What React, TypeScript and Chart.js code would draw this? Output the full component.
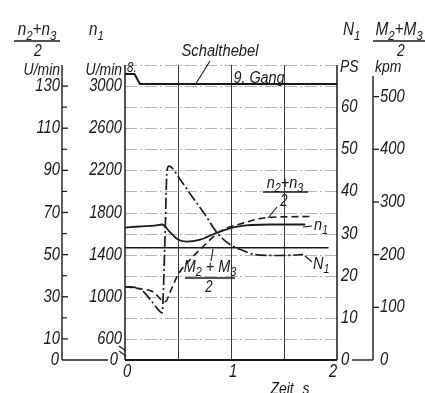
import React, { useEffect, useRef } from "react";
import { Chart, registerables } from "chart.js";
Chart.register(...registerables);

// ---- tick labels ----
const timeTicks = [0, 1, 2];
const nMeanTicks = [10, 30, 50, 70, 90, 110, 130]; // (n2+n3)/2  U/min
const nMeanMinor = [20, 40, 60, 80, 100, 120];
const n1Ticks = [600, 1000, 1400, 1800, 2200, 2600, 3000]; // n1 U/min
const psTicks = [10, 20, 30, 40, 50, 60]; // N1 PS
const mTicks = [100, 200, 300, 400, 500]; // (M2+M3)/2 kpm
const timeGrid = [0.5, 1, 1.5];

// ---- Schalthebel (position, in (n2+n3)/2 units) ----
const leverT = [0, 0.09, 0.14, 2.0];
const leverV = [135.7, 135.7, 131, 131];

// ---- n1 engine speed, U/min ----
const n1T = [0, 0.14, 0.28, 0.35, 0.42, 0.5, 0.58, 0.71, 0.87, 1.06, 1.37, 1.7];
const n1V = [1657, 1667, 1676, 1686, 1619, 1543, 1524, 1543, 1610, 1667, 1686, 1686];

// ---- horizontal reference line (in (n2+n3)/2 units) ----
const refT = [0, 1.92];
const refV = [53.3, 53.3];

// ---- (n2+n3)/2, U/min ----
const nMeanT = [0, 0.14, 0.264, 0.377, 0.443, 0.5, 0.613, 0.736, 0.896, 1.132, 1.34, 1.774];
const nMeanV = [34.8, 33.8, 32.4, 27.6, 34.3, 40.5, 47.6, 53.8, 61.0, 65.2, 67.6, 68.1];

// ---- N1 power, PS ----
const powT = [0, 0.14, 0.24, 0.33, 0.35, 0.377, 0.396, 0.415, 0.519, 0.632, 0.755, 0.868, 0.99, 1.113, 1.226, 1.46, 1.68];
const powV = [17.4, 16.9, 14.3, 11.5, 11.2, 28.6, 44.8, 46.0, 42.9, 38.8, 34.5, 30.2, 27.4, 26.0, 25.0, 24.8, 25.0];

const INK = "#1a1a1a";
const FONT = '"Liberation Sans", "DejaVu Sans", sans-serif';

function pts(t: number[], v: number[]) {
  return t.map((x, i) => ({ x, y: v[i] }));
}

type Seg = { t: string; sub?: boolean };

function drawText(ctx: CanvasRenderingContext2D, s: string, x: number, y: number, size: number, align: CanvasTextAlign = "left", sx = 0.82) {
  ctx.save();
  ctx.font = `italic ${size}px ${FONT}`;
  ctx.fillStyle = INK;
  ctx.textBaseline = "middle";
  ctx.textAlign = align;
  ctx.translate(x, y);
  ctx.scale(sx, 1);
  ctx.fillText(s, 0, 0);
  ctx.restore();
}

function drawSegs(ctx: CanvasRenderingContext2D, segs: Seg[], x: number, y: number, size: number, align: "left" | "center" = "left", sx = 0.85) {
  ctx.save();
  ctx.fillStyle = INK;
  ctx.textBaseline = "middle";
  ctx.textAlign = "left";
  const subSize = size * 0.75;
  let w = 0;
  for (const s of segs) {
    ctx.font = `italic ${s.sub ? subSize : size}px ${FONT}`;
    w += ctx.measureText(s.t).width;
  }
  ctx.translate(x, y);
  ctx.scale(sx, 1);
  let cx = align === "center" ? -w / 2 : 0;
  for (const s of segs) {
    ctx.font = `italic ${s.sub ? subSize : size}px ${FONT}`;
    ctx.fillText(s.t, cx, s.sub ? size * 0.32 : 0);
    cx += ctx.measureText(s.t).width;
  }
  ctx.restore();
}

function line(ctx: CanvasRenderingContext2D, x1: number, y1: number, x2: number, y2: number, w = 1.3) {
  ctx.save();
  ctx.strokeStyle = INK;
  ctx.lineWidth = w;
  ctx.setLineDash([]);
  ctx.beginPath();
  ctx.moveTo(x1, y1);
  ctx.lineTo(x2, y2);
  ctx.stroke();
  ctx.restore();
}

const decor = {
  id: "decor",
  beforeDatasetsDraw(chart: any) {
    const { ctx, chartArea: a, scales } = chart;
    const yv = scales.yv;
    const x = scales.x;
    ctx.save();
    // horizontal grid
    ctx.strokeStyle = "#b4b4b4";
    ctx.lineWidth = 1;
    ctx.setLineDash([12, 3, 2, 3]);
    for (let v = 10; v <= 140; v += 10) {
      const py = Math.round(yv.getPixelForValue(v)) + 0.5;
      ctx.beginPath();
      ctx.moveTo(a.left, py);
      ctx.lineTo(a.right, py);
      ctx.stroke();
    }
    // vertical grid
    ctx.setLineDash([]);
    ctx.strokeStyle = "#3a3a3a";
    for (const t of timeGrid) {
      const px = Math.round(x.getPixelForValue(t)) + 0.5;
      ctx.beginPath();
      ctx.moveTo(px, a.top);
      ctx.lineTo(px, a.bottom);
      ctx.stroke();
    }
    ctx.restore();
  },
  afterDraw(chart: any) {
    const { ctx, chartArea: a, scales } = chart;
    const { x, yv, yn1, yps, ym } = scales;
    // frame
    line(ctx, a.left, a.top, a.left, a.bottom, 1.5);
    line(ctx, a.right, a.top, a.right, a.bottom, 1.5);
    line(ctx, a.left, a.bottom, a.right, a.bottom, 2);

    // left (n2+n3)/2 axis
    const axL = 62;
    line(ctx, axL, a.top, axL, a.bottom, 1.4);
    line(ctx, axL, a.bottom, 108, a.bottom, 1.4);
    for (const v of nMeanTicks) {
      const py = yv.getPixelForValue(v);
      line(ctx, axL, py, axL + 6, py, 1.3);
      drawText(ctx, String(v), axL - 2, py, 18, "right");
    }
    for (const v of nMeanMinor) {
      const py = yv.getPixelForValue(v);
      line(ctx, axL, py, axL + 5, py, 1.2);
    }
    drawText(ctx, "0", axL - 3, a.bottom, 18, "right");

    // n1 axis labels
    for (const v of n1Ticks) {
      drawText(ctx, String(v), a.left - 3, yn1.getPixelForValue(v), 18, "right");
    }
    drawText(ctx, "0", 118, a.bottom, 18, "right");
    // axis break mark
    line(ctx, 119, 346, 126, 351, 1.1);
    line(ctx, 119, 351, 126, 356, 1.1);

    // right PS axis
    for (const v of psTicks) {
      drawText(ctx, String(v), a.right + 4, yps.getPixelForValue(v), 18, "left");
    }
    drawText(ctx, "0", a.right + 4, a.bottom, 18, "left");
    drawText(ctx, "PS", a.right + 3, 67, 17, "left");

    // M axis
    const axM = 373;
    line(ctx, axM, 76, axM, a.bottom, 1.4);
    line(ctx, 352, a.bottom, axM, a.bottom, 1.4);
    for (const v of mTicks) {
      const py = ym.getPixelForValue(v);
      line(ctx, axM, py, axM + 6, py, 1.3);
      drawText(ctx, String(v), axM + 7, py, 18, "left");
    }
    drawText(ctx, "0", axM + 7, a.bottom, 18, "left");
    drawText(ctx, "kpm", axM + 2, 67, 17, "left");

    // top titles
    drawSegs(ctx, [{ t: "n" }, { t: "2", sub: true }, { t: "+" }, { t: "n" }, { t: "3", sub: true }], 37, 30, 18, "center");
    line(ctx, 14, 41, 60, 41, 1.5);
    drawText(ctx, "2", 38, 51, 17, "center");
    drawText(ctx, "U/min", 60, 70, 17, "right");
    drawSegs(ctx, [{ t: "n" }, { t: "1", sub: true }], 89, 30, 18, "left");
    drawText(ctx, "U/min", 122, 70, 17, "right");
    drawSegs(ctx, [{ t: "N" }, { t: "1", sub: true }], 343, 30, 18, "left");
    drawSegs(ctx, [{ t: "M" }, { t: "2", sub: true }, { t: "+" }, { t: "M" }, { t: "3", sub: true }], 399, 30, 18, "center");
    line(ctx, 373, 41, 425, 41, 1.5);
    drawText(ctx, "2", 401, 51, 17, "center");

    // x labels
    for (const t of timeTicks) {
      const px = x.getPixelForValue(t);
      drawText(ctx, String(t), t === 2 ? px - 4 : px + 2, 372, 18, "center");
    }
    drawText(ctx, "Zeit", 282, 389, 17, "center");
    drawText(ctx, "s", 306, 389, 17, "center");

    // in-plot labels
    drawText(ctx, "8.", 127, 68, 14, "left");
    drawText(ctx, "Schalthebel", 220, 52, 16, "center", 0.92);
    line(ctx, 195, 85, 210, 61, 1.1);
    drawText(ctx, "9. Gang", 259, 79, 16, "center", 0.9);

    drawSegs(ctx, [{ t: "n" }, { t: "2", sub: true }, { t: "+" }, { t: "n" }, { t: "3", sub: true }], 285, 183, 17, "center");
    line(ctx, 263, 192, 308, 192, 1.4);
    drawText(ctx, "2", 284, 202, 16, "center");
    line(ctx, 268, 218, 277, 207, 1.1);

    drawSegs(ctx, [{ t: "n" }, { t: "1", sub: true }], 314, 225, 17, "left");
    line(ctx, 303, 227, 312, 226, 1.1);

    drawSegs(ctx, [{ t: "N" }, { t: "1", sub: true }], 313, 264, 17, "left");
    line(ctx, 305, 256, 312, 262, 1.1);

    drawSegs(ctx, [{ t: "M" }, { t: "2", sub: true }, { t: " + " }, { t: "M" }, { t: "3", sub: true }], 210, 267, 17, "center");
    line(ctx, 185, 278, 235, 278, 1.4);
    drawText(ctx, "2", 209, 288, 16, "center");
    line(ctx, 211, 261, 213, 249, 1.1);
  },
};

export default function App() {
  const ref = useRef<HTMLCanvasElement>(null);
  useEffect(() => {
    if (!ref.current) return;
    const base = { pointRadius: 0, borderColor: INK, fill: false, cubicInterpolationMode: "monotone" as const };
    const chart = new Chart(ref.current, {
      type: "line",
      data: {
        datasets: [
          { ...base, label: "Schalthebel", data: pts(leverT, leverV), yAxisID: "yv", borderWidth: 2, tension: 0, cubicInterpolationMode: "default" as any },
          { ...base, label: "Referenz", data: pts(refT, refV), yAxisID: "yv", borderWidth: 1.4 },
          { ...base, label: "n1", data: pts(n1T, n1V), yAxisID: "yn1", borderWidth: 1.8 },
          { ...base, label: "(n2+n3)/2", data: pts(nMeanT, nMeanV), yAxisID: "yv", borderWidth: 1.6, borderDash: [7, 4] },
          { ...base, label: "N1", data: pts(powT, powV), yAxisID: "yps", borderWidth: 1.7, borderDash: [11, 3, 2, 3] },
        ],
      },
      options: {
        responsive: false,
        animation: false,
        parsing: true,
        layout: { padding: { left: 125, right: 88, top: 65, bottom: 33 } },
        plugins: { legend: { display: false }, tooltip: { enabled: false } },
        scales: {
          x: { type: "linear", min: 0, max: 2, display: false },
          yv: { type: "linear", min: 0, max: 140, display: false },
          yn1: { type: "linear", min: 400, max: 3200, display: false },
          yps: { type: "linear", min: 0, max: 70, display: false },
          ym: { type: "linear", min: 0, max: 560, display: false },
        },
      },
      plugins: [decor],
    });
    return () => chart.destroy();
  }, []);
  return (
    <div style={{ position: "fixed", left: 0, top: 0, width: 425, height: 393, background: "#fff" }}>
      <canvas ref={ref} width={425} height={393} />
    </div>
  );
}
